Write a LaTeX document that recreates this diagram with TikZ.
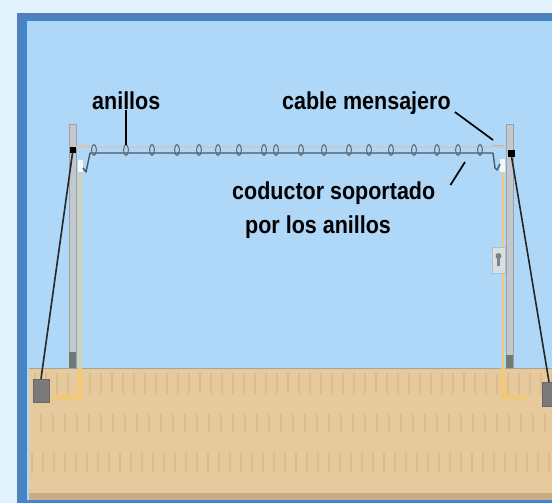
\documentclass[tikz,border=0pt]{standalone}
\usepackage{graphicx}
\usepackage{fontspec}
\setmainfont{Liberation Sans}
\definecolor{outerbg}{HTML}{E2F2FC}
\definecolor{framedark}{HTML}{4F81BD}
\definecolor{framelight}{HTML}{3C87CE}
\definecolor{sky}{HTML}{AFD7F8}
\definecolor{soil}{HTML}{E6C99D}
\definecolor{soilstripe}{HTML}{DCBD91}
\definecolor{soildeep}{HTML}{C9AC88}
\definecolor{surface}{HTML}{A9A58C}
\definecolor{polefill}{HTML}{C4C8CC}
\definecolor{poleedge}{HTML}{9AA1A7}
\definecolor{polebase}{HTML}{6E7A72}
\definecolor{anchorgray}{HTML}{7A7A7A}
\definecolor{conduit}{HTML}{F5C872}
\definecolor{messenger}{HTML}{C6CACE}
\definecolor{conductor}{HTML}{4C5661}
\definecolor{ringgray}{HTML}{56646F}
\definecolor{meterfill}{HTML}{DADFE4}
\newcommand\tallword[1]{\scalebox{1}[1.14]{#1}}
\begin{document}
\begin{tikzpicture}[x=1pt,y=-1pt,
  labeltext/.style={font=\bfseries\fontsize{21.5}{24}\selectfont, inner sep=0pt, anchor=base west},
  leader/.style={draw=black, line width=1.7pt},
  ringshape/.style={draw=ringgray, line width=1pt},
  polebody/.style={fill=polefill, draw=poleedge, line width=0.6pt},
  guywire/.style={draw=black!85, line width=1.6pt},
  pipe/.style={draw=conduit, line width=2pt, line join=round},
  widepipe/.style={draw=conduit, line width=3.5pt, line join=round},
  stripe/.style={fill=soilstripe}]

\useasboundingbox (0,0) rectangle (552,503);
\clip (0,0) rectangle (552,503);

% background and frame
\fill[outerbg] (0,0) rectangle (552,503);
\fill[framedark] (17,13) rectangle (560,510);
\fill[framelight] (23,19) rectangle (560,503);
\fill[sky] (27,21) rectangle (560,500);

% ground
\fill[soil] (29,368) rectangle (560,500);
\fill[soildeep] (29,493) rectangle (560,500);
\fill[framelight] (29,500) rectangle (560,503);
\foreach \x in {34,45,...,552} {\fill[stripe] (\x,373) rectangle ++(1.6,21);}
\foreach \x in {40,52,...,552} {\fill[stripe] (\x,414) rectangle ++(1.6,18);}
\foreach \x in {31,42,...,552} {\fill[stripe] (\x,453) rectangle ++(1.6,20);}
\draw[surface, line width=1pt] (29,368) -- (560,368);

% service conduits
\draw[pipe] (80,172) -- (80,368);
\draw[widepipe] (80,368) -- (80,397) -- (55,397);
\draw[pipe] (503,170) -- (503,368);
\draw[widepipe] (503,368) -- (503,397) -- (527,397);

% guy anchors
\node[fill=anchorgray, draw=anchorgray!85!black, minimum width=16pt, minimum height=23pt, inner sep=0pt] (anchorL) at (41,390.5) {};
\node[fill=anchorgray, draw=anchorgray!85!black, minimum width=14pt, minimum height=24pt, inner sep=0pt] (anchorR) at (549,394) {};

% poles
\draw[polebody] (69,124) rectangle (76,368);
\fill[polebase] (69,352) rectangle (76,368);
\draw[polebody] (506,124) rectangle (513,368);
\fill[polebase] (506,355) rectangle (513,368);

% pole-top clamps
\node[fill=black, minimum size=6pt, inner sep=0pt] (clampL) at (73,149.5) {};
\node[fill=black, minimum size=7pt, inner sep=0pt] (clampR) at (511,153.5) {};

% weatherheads
\fill[white!85!polefill] (78,160) rectangle (83,172);
\fill[white!85!polefill] (500,159) rectangle (505,172);

% meter box
\node[fill=meterfill, draw=poleedge!70, minimum width=13pt, minimum height=26pt, inner sep=0pt] (meter) at (498.5,260) {};
\fill[ringgray!80] (498.5,256) circle (3);
\fill[ringgray!80] (497,257) rectangle (500,266);

% guy wires
\draw[guywire] (clampL) -- (anchorL.north);
\draw[guywire] (clampR) -- (anchorR.north);

% messenger cable
\draw[messenger, line width=2pt] (76,146.5) -- (506,146.5);
\draw[gray!60, line width=1.4pt] (493,145.5) -- (503,145.5);
\draw[gray!40, line width=1.2pt] (78,145) -- (90,145);

% supported conductor with drops at both ends
\draw[conductor, line width=1.4pt, line join=round]
  (83,168) -- (86,172) -- (89,158) -- (90,153) -- (493,153) -- (495,168) -- (497,170) -- (500,164);

% rings
\foreach \x [count=\i] in {94,126,152,177,199,218,239,264,276,301,324,349,369,391,414,437,458,480}
  {\draw[ringshape] (\x,150) ellipse [x radius=2.4, y radius=5.5];
   \coordinate (ring\i) at (\x,144.5);}

% labels
\node[labeltext] (anillos) at (92,110) {\tallword{anillos}};
\node[labeltext] (mensajero) at (282,110) {\tallword{cable mensajero}};
\node[labeltext] (conductorA) at (232,199) {\tallword{coductor soportado}};
\node[labeltext] (conductorB) at (245,233) {\tallword{por los anillos}};

% leaders
\coordinate (msgTip) at (493,140);
\coordinate (condTip) at (465,162);
\draw[leader] (anillos.south -| ring2) -- (ring2);
\draw[leader] ([shift={(4pt,-2pt)}]mensajero.base east) -- (msgTip);
\draw[leader] ([shift={(15pt,14pt)}]conductorA.base east) -- (condTip);
\end{tikzpicture}
\end{document}
